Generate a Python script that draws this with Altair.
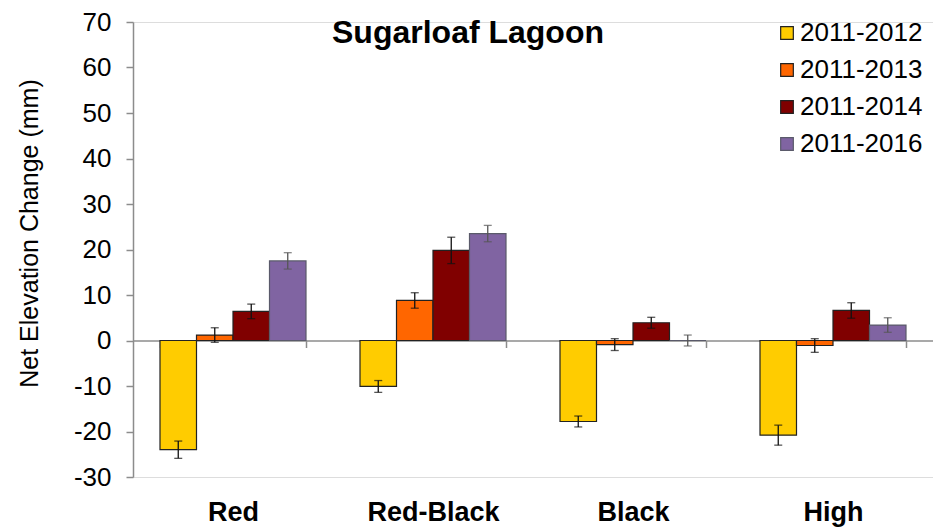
import altair as alt
import pandas as pd

categories = ["Red", "Red-Black", "Black", "High"]
series = ["2011-2012", "2011-2013", "2011-2014", "2011-2016"]
values = {
    "2011-2012": [-24.0, -10.1, -17.8, -20.8],
    "2011-2013": [1.2, 8.8, -0.9, -1.1],
    "2011-2014": [6.4, 19.8, 3.9, 6.6],
    "2011-2016": [17.5, 23.5, 0.0, 3.4],
}
errors = {
    "2011-2012": [1.9, 1.3, 1.2, 2.2],
    "2011-2013": [1.6, 1.7, 1.3, 1.5],
    "2011-2014": [1.6, 2.9, 1.2, 1.7],
    "2011-2016": [1.8, 1.8, 1.2, 1.6],
}
chart_title = "Sugarloaf Lagoon"
y_title = "Net Elevation Change (mm)"
fills = ["#FFCC00", "#FF6600", "#800000", "#8064A2"]
strokes = ["#222222", "#222222", "#222222", "#5a5a6a"]

rows = []
for s in series:
    for c, v, e in zip(categories, values[s], errors[s]):
        rows.append({"cat": c, "series": s, "value": v, "lo": v - e, "hi": v + e})
df = pd.DataFrame(rows)

FONT = "Liberation Sans"

x = alt.X(
    "cat:N",
    sort=categories,
    scale=alt.Scale(paddingInner=0.27, paddingOuter=0.135),
    axis=alt.Axis(
        title=None,
        orient="bottom",
        offset=-136.5,
        domainColor="#8c8c8c",
        domainWidth=1.5,
        tickBand="extent",
        tickColor="#8c8c8c",
        tickWidth=1.5,
        tickSize=7,
        labelFontSize=27,
        labelFontWeight="bold",
        labelFont=FONT,
        labelColor="#000000",
        labelPadding=152,
        labelAngle=0,
    ),
)
xoff = alt.XOffset("series:N", sort=series, scale=alt.Scale(paddingInner=0, paddingOuter=0))
y = alt.Y(
    "value:Q",
    scale=alt.Scale(domain=[-30, 70], nice=False),
    axis=alt.Axis(
        title=y_title,
        values=list(range(-30, 71, 10)),
        labelExpr="'' + datum.value",
        grid=False,
        domainColor="#8c8c8c",
        domainWidth=1.5,
        tickColor="#8c8c8c",
        tickWidth=1.5,
        tickSize=7,
        labelFontSize=26,
        labelFont=FONT,
        labelColor="#000000",
        labelPadding=15,
        titleFontSize=25,
        titleFont=FONT,
        titleFontWeight="normal",
        titleColor="#000000",
        titleX=-104,
        titleY=211,
        titleAngle=270,
        titleAlign="center",
        titleBaseline="middle",
    ),
)

legend = alt.Legend(
    title=None,
    orient="none",
    legendX=641,
    legendY=-2,
    padding=0,
    symbolType="square",
    symbolSize=160,
    symbolStrokeWidth=1.2,
    labelFontSize=26,
    labelFont=FONT,
    labelColor="#000000",
    labelOffset=0,
    rowPadding=11,
)

bars = alt.Chart(df).mark_bar(strokeWidth=1.2).encode(
    x=x,
    xOffset=xoff,
    y=y,
    fill=alt.Fill("series:N", sort=series, scale=alt.Scale(domain=series, range=fills), legend=legend),
    stroke=alt.Stroke("series:N", sort=series, scale=alt.Scale(domain=series, range=strokes), legend=legend),
)

ecolor = alt.condition(alt.datum.series == "2011-2016", alt.value("#555555"), alt.value("#111111"))

err_rule = alt.Chart(df).mark_rule(strokeWidth=1.3).encode(
    x=alt.X("cat:N", sort=categories),
    xOffset=alt.XOffset("series:N", sort=series),
    y="lo:Q",
    y2="hi:Q",
    color=ecolor,
)
cap_lo = alt.Chart(df).mark_tick(size=8, thickness=1.3).encode(
    x=alt.X("cat:N", sort=categories),
    xOffset=alt.XOffset("series:N", sort=series),
    y="lo:Q",
    color=ecolor,
)
cap_hi = alt.Chart(df).mark_tick(size=8, thickness=1.3).encode(
    x=alt.X("cat:N", sort=categories),
    xOffset=alt.XOffset("series:N", sort=series),
    y="hi:Q",
    color=ecolor,
)

title_text = alt.Chart(pd.DataFrame({"t": [chart_title]})).mark_text(
    font=FONT,
    fontSize=32,
    fontWeight="bold",
    color="#000000",
    align="center",
    baseline="alphabetic",
).encode(text="t:N", x=alt.value(335), y=alt.value(21))

chart = alt.layer(bars, err_rule, cap_lo, cap_hi, title_text).properties(
    width=800,
    height=455,
    autosize=alt.AutoSizeParams(type="none"),
    padding={"left": 133, "top": 22, "right": 0, "bottom": 54},
).configure_view(stroke=None).configure(background="white")

chart.save("out.html", embed_options={"renderer": "svg", "actions": False})
